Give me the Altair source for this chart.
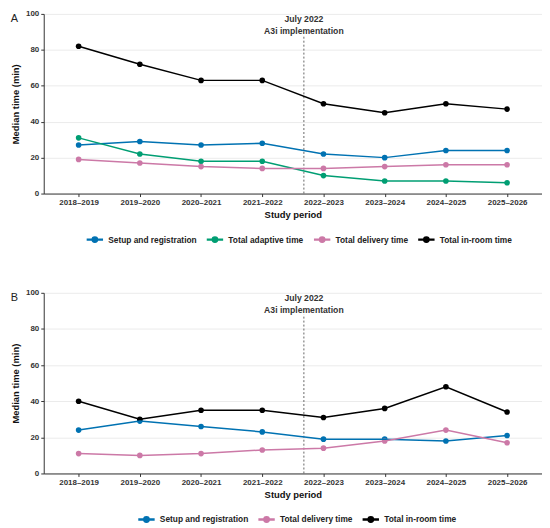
import json
import altair as alt
import pandas as pd

categories = ["2018–2019", "2019–2020", "2020–2021", "2021–2022",
              "2022–2023", "2023–2024", "2024–2025", "2025–2026"]

series_names = ["Setup and registration", "Total adaptive time",
                "Total delivery time", "Total in-room time"]
series_colors = ["#0072B2", "#009E73", "#CC79A7", "#000000"]

# Panel A
a_setup = [27, 29, 27, 28, 22, 20, 24, 24]
a_adaptive = [31, 22, 18, 18, 10, 7, 7, 6]
a_delivery = [19, 17, 15, 14, 14, 15, 16, 16]
a_inroom = [82, 72, 63, 63, 50, 45, 50, 47]

# Panel B
b_setup = [24, 29, 26, 23, 19, 19, 18, 21]
b_delivery = [11, 10, 11, 13, 14, 18, 24, 17]
b_inroom = [40, 30, 35, 35, 31, 36, 48, 34]

y_ticks = [0, 20, 40, 60, 80, 100]

# July 2022 on the period axis (between 2021–2022 and 2022–2023)
implementation_pos = 4.68
annotation_lines = ["July 2022", "A3i implementation"]
annotation_y = [97.3, 90.2]
rule_top = 88

label_expr = json.dumps(categories, ensure_ascii=False) + "[datum.value - 1]"

LEGEND_PATH = ("M-1,-0.055L1,-0.055L1,0.055L-1,0.055Z"
               "M-0.36,0A0.36,0.36,0,1,1,0.36,0A0.36,0.36,0,1,1,-0.36,0Z")

x_enc = alt.X("idx:Q",
              scale=alt.Scale(domain=[0.43, len(categories) + 0.57], nice=False, zero=False),
              axis=alt.Axis(values=list(range(1, len(categories) + 1)), labelExpr=label_expr,
                            title="Study period", grid=False, titlePadding=3, labelPadding=2))
y_enc = alt.Y("value:Q",
              scale=alt.Scale(domain=[0, 100], nice=False),
              axis=alt.Axis(values=y_ticks, title="Median time (min)", grid=True,
                            titlePadding=5, labelPadding=2))


def make_legend(lx, ly):
    return alt.Legend(orient="none", legendX=lx, legendY=ly, direction="horizontal", title=None,
                      symbolType=LEGEND_PATH, symbolSize=225,
                      symbolOpacity=1, labelFontSize=8.4,
                      labelFontWeight="bold", labelColor="#222",
                      labelOffset=5, columnPadding=8)


def panel(label, series, h, lx, ly):
    names = [n for n in series_names if n in series]
    cols = [series_colors[series_names.index(n)] for n in names]
    rows = []
    for n in names:
        for i, (c, v) in enumerate(zip(categories, series[n])):
            rows.append({"period": c, "idx": i + 1, "series": n, "value": v})
    df = pd.DataFrame(rows)
    scale = alt.Scale(domain=names, range=cols)

    points = alt.Chart(df).mark_point(filled=True, size=32, opacity=1).encode(
        x=x_enc, y=y_enc,
        color=alt.Color("series:N", scale=scale, legend=make_legend(lx, ly)))
    lines = alt.Chart(df).mark_line(strokeWidth=1.5).encode(
        x=x_enc, y=y_enc,
        color=alt.Color("series:N", scale=scale, legend=make_legend(lx, ly)),
        detail="series:N")

    rule_df = pd.DataFrame({"idx": [implementation_pos], "value": [0], "value2": [rule_top]})
    rule = alt.Chart(rule_df).mark_rule(strokeDash=[2, 2], color="#666", strokeWidth=1).encode(
        x=x_enc, y=y_enc, y2="value2:Q")

    t_df = pd.DataFrame({"idx": [implementation_pos] * 2, "value": annotation_y,
                         "text": annotation_lines})
    texts = alt.Chart(t_df).mark_text(fontSize=8.7, fontWeight="bold", color="#333",
                                      baseline="middle", align="center").encode(
        x=x_enc, y=y_enc, text="text:N")

    return alt.layer(points, rule, texts, lines).properties(
        width=502, height=h,
        title=alt.TitleParams(label, anchor="start", frame="bounds", fontSize=11,
                              fontWeight="normal", color="#222", offset=-14))


panel_a = panel("A", {"Setup and registration": a_setup, "Total adaptive time": a_adaptive,
                      "Total delivery time": a_delivery, "Total in-room time": a_inroom},
                181, 43, 218.5)
panel_b = panel("B", {"Setup and registration": b_setup, "Total delivery time": b_delivery,
                      "Total in-room time": b_inroom}, 182, 95, 219.5)

chart = alt.vconcat(panel_a, panel_b, spacing=43).resolve_scale(
    color="independent").resolve_legend(color="independent").configure(
    font="Liberation Sans",
    padding={"top": 0, "left": 2, "right": 0, "bottom": 0}
).configure_view(stroke=None).configure_axis(
    labelFontSize=8, labelFontWeight="bold", labelColor="#333",
    titleFontSize=9.5, titleFontWeight="bold", titleColor="#111",
    domainColor="#333", tickColor="#333", tickSize=3,
    gridColor="#ebebeb"
)

chart.save("out.html", embed_options={"renderer": "svg", "actions": False})
